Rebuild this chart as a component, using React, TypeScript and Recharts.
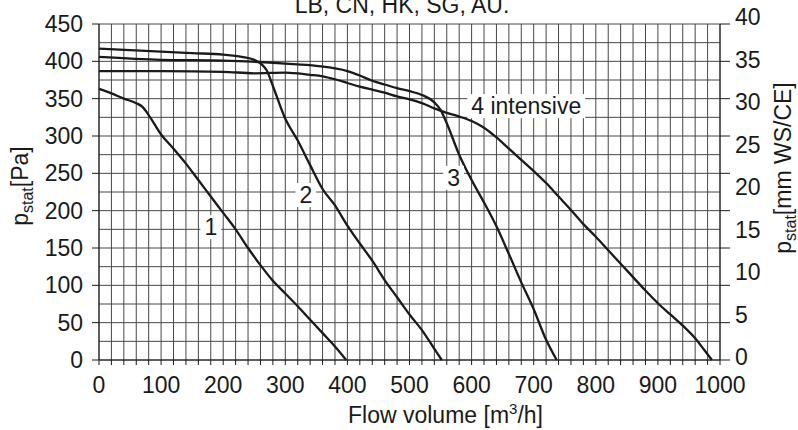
import React from 'react';
import { ComposedChart, Line, Scatter, XAxis, YAxis, CartesianGrid, Customized } from 'recharts';

// flow volume [m3/h] vs static pressure [Pa]
const curve1 = [
  { flow: 0, pa: 363 }, { flow: 20, pa: 357 }, { flow: 40, pa: 350 }, { flow: 60, pa: 344 },
  { flow: 70, pa: 339 }, { flow: 80, pa: 328 }, { flow: 100, pa: 302 }, { flow: 120, pa: 283 },
  { flow: 140, pa: 263 }, { flow: 160, pa: 241 }, { flow: 180, pa: 219 }, { flow: 200, pa: 197 },
  { flow: 220, pa: 175 }, { flow: 240, pa: 150 }, { flow: 260, pa: 127 }, { flow: 280, pa: 106 },
  { flow: 300, pa: 89 }, { flow: 320, pa: 72 }, { flow: 340, pa: 54 }, { flow: 360, pa: 36 },
  { flow: 380, pa: 18 }, { flow: 398, pa: 0 },
];

const curve2 = [
  { flow: 0, pa: 417 }, { flow: 50, pa: 415 }, { flow: 100, pa: 413 }, { flow: 150, pa: 411 },
  { flow: 200, pa: 409 }, { flow: 230, pa: 406 }, { flow: 250, pa: 402 }, { flow: 262, pa: 396 },
  { flow: 270, pa: 388 }, { flow: 280, pa: 367 }, { flow: 300, pa: 323 }, { flow: 320, pa: 294 },
  { flow: 340, pa: 261 }, { flow: 360, pa: 229 }, { flow: 380, pa: 207 }, { flow: 400, pa: 180 },
  { flow: 420, pa: 156 }, { flow: 440, pa: 133 }, { flow: 460, pa: 107 }, { flow: 480, pa: 84 },
  { flow: 500, pa: 61 }, { flow: 520, pa: 40 }, { flow: 540, pa: 15 }, { flow: 552, pa: 0 },
];

const curve3 = [
  { flow: 0, pa: 406 }, { flow: 100, pa: 402 }, { flow: 200, pa: 401 }, { flow: 300, pa: 397 },
  { flow: 350, pa: 394 }, { flow: 400, pa: 387 }, { flow: 420, pa: 381 }, { flow: 440, pa: 374 },
  { flow: 460, pa: 369 }, { flow: 480, pa: 364 }, { flow: 500, pa: 360 }, { flow: 520, pa: 355 },
  { flow: 540, pa: 345 }, { flow: 550, pa: 335 }, { flow: 560, pa: 317 }, { flow: 580, pa: 275 },
  { flow: 600, pa: 241 }, { flow: 620, pa: 211 }, { flow: 640, pa: 179 }, { flow: 660, pa: 142 },
  { flow: 680, pa: 104 }, { flow: 700, pa: 68 }, { flow: 720, pa: 27 }, { flow: 737, pa: 0 },
];

const curve4 = [
  { flow: 0, pa: 387 }, { flow: 100, pa: 387 }, { flow: 200, pa: 386 }, { flow: 250, pa: 384 },
  { flow: 300, pa: 385 }, { flow: 340, pa: 382 }, { flow: 360, pa: 380 }, { flow: 380, pa: 376 },
  { flow: 400, pa: 371 }, { flow: 420, pa: 366 }, { flow: 440, pa: 362 }, { flow: 460, pa: 358 },
  { flow: 480, pa: 353 }, { flow: 500, pa: 349 }, { flow: 520, pa: 344 }, { flow: 540, pa: 337 },
  { flow: 560, pa: 331 }, { flow: 580, pa: 326 }, { flow: 600, pa: 320 }, { flow: 620, pa: 311 },
  { flow: 640, pa: 298 }, { flow: 660, pa: 283 }, { flow: 680, pa: 268 }, { flow: 700, pa: 253 },
  { flow: 720, pa: 237 }, { flow: 740, pa: 219 }, { flow: 760, pa: 201 }, { flow: 780, pa: 182 },
  { flow: 800, pa: 165 }, { flow: 820, pa: 147 }, { flow: 840, pa: 129 }, { flow: 860, pa: 111 },
  { flow: 880, pa: 93 }, { flow: 900, pa: 76 }, { flow: 920, pa: 61 }, { flow: 940, pa: 46 },
  { flow: 960, pa: 29 }, { flow: 975, pa: 13 }, { flow: 987, pa: 0 },
];

const curveLabels = [
  { flow: 180, pa: 178, text: '1' },
  { flow: 333, pa: 221, text: '2' },
  { flow: 571, pa: 244, text: '3' },
  { flow: 688, pa: 340, text: '4 intensive' },
];

const flowTicks = [
  0, 20, 40, 60, 80, 100, 120, 140, 160, 180, 200, 220, 240, 260, 280, 300, 320, 340, 360, 380,
  400, 420, 440, 460, 480, 500, 520, 540, 560, 580, 600, 620, 640, 660, 680, 700, 720, 740, 760,
  780, 800, 820, 840, 860, 880, 900, 920, 940, 960, 980, 1000,
];
const flowLabels = [0, 100, 200, 300, 400, 500, 600, 700, 800, 900, 1000];
const paTicks = [0, 50, 100, 150, 200, 250, 300, 350, 400, 450];
const paGrid = [0, 25, 50, 75, 100, 125, 150, 175, 200, 225, 250, 275, 300, 325, 350, 375, 400, 425, 450];
const mmTicks = [0, 5, 10, 15, 20, 25, 30, 35, 40];

const FONT = '"Liberation Sans", Arial, Helvetica, sans-serif';
const INK = '#1a1a1a';
const GRID = '#474747';
const FS = 23;

const charW: Record<string, number> = { ' ': 0.278, i: 0.222, t: 0.278, n: 0.556, e: 0.556, s: 0.5, v: 0.5 };
const textWidth = (s: string) => s.split('').reduce((w, c) => w + (charW[c] ?? 0.556), 0) * FS;

const CurveTag = (props: any) => {
  const { cx, cy, payload } = props;
  if (cx == null || cy == null) return null;
  const w = textWidth(payload.text) + 8;
  return (
    <g>
      <rect x={cx - w / 2} y={cy - 12} width={w} height={24} fill="#fff" />
      <text x={cx} y={cy} dy="0.36em" textAnchor="middle" fontSize={FS} fontFamily={FONT} fill={INK}>
        {payload.text}
      </text>
    </g>
  );
};

const MmTick = (props: any) => {
  const { x, y, payload } = props;
  return (
    <text x={x} y={y} dy={-3 - payload.value * 0.1} dominantBaseline="central" textAnchor="start"
      fontSize={FS} fontFamily={FONT} fill={INK}>
      {payload.value}
    </text>
  );
};

const leftTitle = (props: any) => {
  const vb = props.viewBox;
  const cx = vb.x + 28;
  const cy = vb.y + vb.height / 2 - 6;
  return (
    <text x={cx} y={cy} textAnchor="middle" transform={`rotate(-90, ${cx}, ${cy})`}
      fontSize={FS} fontFamily={FONT} fill={INK}>
      p<tspan fontSize={16} dy={5}>stat</tspan><tspan dy={-5}>[Pa]</tspan>
    </text>
  );
};

const rightTitle = (props: any) => {
  const vb = props.viewBox;
  const cx = vb.x + vb.width - 7;
  const cy = vb.y + vb.height / 2 - 24;
  return (
    <text x={cx} y={cy} textAnchor="middle" transform={`rotate(-90, ${cx}, ${cy})`}
      fontSize={FS} fontFamily={FONT} fill={INK}>
      p<tspan fontSize={16} dy={5}>stat</tspan><tspan dy={-5}>[mm WS/CE]</tspan>
    </text>
  );
};

const bottomTitle = (props: any) => {
  const vb = props.viewBox;
  return (
    <text x={vb.x + vb.width / 2 + 36} y={vb.y + 63} textAnchor="middle"
      fontSize={FS} fontFamily={FONT} fill={INK}>
      Flow volume [m<tspan fontSize={15} dy={-9}>3</tspan><tspan dy={9}>/h]</tspan>
    </text>
  );
};

const TopNote = () => (
  <text x={402} y={13} textAnchor="middle" fontSize={FS} fontFamily={FONT} fill={INK}>
    LB, CN, HK, SG, AU.
  </text>
);

const tickStyle = { fontSize: FS, fontFamily: FONT, fill: INK };

export default function App() {
  return (
    <div style={{ position: 'absolute', left: 0, top: 0, background: '#fff' }}>
      <ComposedChart width={798} height={430} margin={{ top: 24, right: 0, bottom: 0, left: 0 }}>
        <CartesianGrid xAxisId="f" yAxisId="pa" stroke={GRID} strokeWidth={1}
          horizontalValues={paGrid} verticalValues={flowTicks} />
        <XAxis xAxisId="f" dataKey="flow" type="number" domain={[0, 1000]} ticks={flowTicks} interval={0}
          height={70} tickSize={5} tickMargin={12} stroke={INK} tick={tickStyle}
          tickFormatter={(v: number) => (flowLabels.includes(v) ? String(v) : '')}
          label={bottomTitle} />
        <YAxis yAxisId="pa" dataKey="pa" type="number" domain={[0, 450]} ticks={paTicks} interval={0}
          width={99} tickSize={7} tickMargin={9} stroke={INK} tick={tickStyle} label={leftTitle} />
        <YAxis yAxisId="r2" orientation="right" type="number" domain={[0, 40]} ticks={mmTicks} interval={0}
          allowDataOverflow width={68} tickSize={0} tickMargin={5} tickLine={false} axisLine={false}
          tick={<MmTick />} label={rightTitle} />
        <YAxis yAxisId="r1" orientation="right" type="number" domain={[0, 450]} ticks={paTicks} interval={0}
          allowDataOverflow width={10} tickSize={10} stroke={INK} tickFormatter={() => ''} />
        <Line xAxisId="f" yAxisId="pa" data={curve1} dataKey="pa" type="monotone" stroke={INK}
          strokeWidth={2.3} dot={false} isAnimationActive={false} />
        <Line xAxisId="f" yAxisId="pa" data={curve2} dataKey="pa" type="monotone" stroke={INK}
          strokeWidth={2.3} dot={false} isAnimationActive={false} />
        <Line xAxisId="f" yAxisId="pa" data={curve3} dataKey="pa" type="monotone" stroke={INK}
          strokeWidth={2.3} dot={false} isAnimationActive={false} />
        <Line xAxisId="f" yAxisId="pa" data={curve4} dataKey="pa" type="monotone" stroke={INK}
          strokeWidth={2.3} dot={false} isAnimationActive={false} />
        <Scatter xAxisId="f" yAxisId="pa" data={curveLabels} dataKey="pa" shape={<CurveTag />}
          isAnimationActive={false} />
        <Customized component={TopNote} />
      </ComposedChart>
    </div>
  );
}
